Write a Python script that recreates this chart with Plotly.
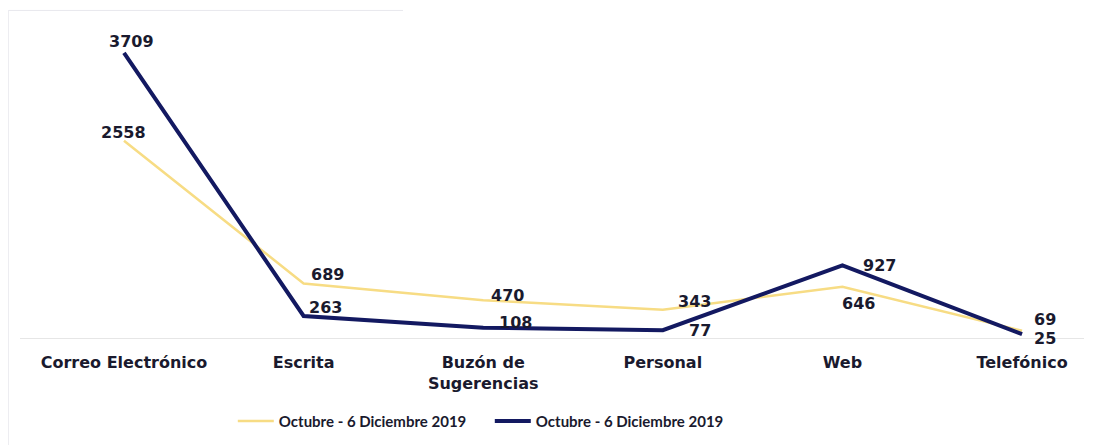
import plotly.graph_objects as go

categories = ["Correo Electrónico", "Escrita", "Buzón de<br>Sugerencias", "Personal", "Web", "Telefónico"]
serie_amarilla = [2558, 689, 470, 343, 646, 69]
serie_azul = [3709, 263, 108, 77, 927, 25]
nombre_amarilla = "Octubre - 6 Diciembre 2019"
nombre_azul = "Octubre - 6 Diciembre 2019"

# label offsets (px) relative to each point
off_amarilla = [(0, 8), (24, 9), (24, 5), (32, 8), (16, -17), (23, 11)]
off_azul = [(8, 11), (22, 8), (32, 5), (37, 0), (37, 0), (23, -4)]

AMARILLO = "#F7DC84"
AZUL = "#131961"
TXT = "#1a1a2e"

fig = go.Figure()
fig.add_trace(go.Scatter(
    x=categories, y=serie_amarilla, name=nombre_amarilla, mode="lines",
    line=dict(color=AMARILLO, width=2.5),
))
fig.add_trace(go.Scatter(
    x=categories, y=serie_azul, name=nombre_azul, mode="lines",
    line=dict(color=AZUL, width=4),
))

for serie, offs in ((serie_amarilla, off_amarilla), (serie_azul, off_azul)):
    for cat, val, (dx, dy) in zip(categories, serie, offs):
        fig.add_annotation(x=cat, y=val, text=str(val), showarrow=False,
                           xshift=dx, yshift=dy, xanchor="center", yanchor="middle",
                           font=dict(family="DejaVu Sans", size=16, color=TXT, weight="bold"))

# page body has an 8px margin; figure sized so it fits the 1094x445 window
fig.update_layout(
    width=1086, height=437,
    margin=dict(l=12, r=10, t=12, b=107),
    paper_bgcolor="white", plot_bgcolor="white",
    showlegend=True,
    legend=dict(orientation="h", x=0.2, xanchor="left", yref="container", y=0.092, yanchor="top",
                font=dict(family="Lato", size=15, color=TXT, weight="bold"),
                itemwidth=36, entrywidth=206),
    xaxis=dict(range=[-0.579, 5.345], showgrid=False, zeroline=False,
               showline=True, linecolor="#e6e6e6", linewidth=1,
               ticks="outside", ticklen=10, tickcolor="rgba(0,0,0,0)",
               tickfont=dict(family="DejaVu Sans", size=16, color=TXT, weight="bold"),
               tickangle=0),
    yaxis=dict(range=[-26, 4141], showgrid=False, zeroline=False, showticklabels=False,
               showline=False),
    font=dict(family="DejaVu Sans"),
)

fig.add_shape(type="line", xref="paper", yref="paper", x0=-0.011, x1=0.36, y0=1.03, y1=1.03,
              line=dict(color="#e8e8ee", width=1))
fig.add_shape(type="line", xref="paper", yref="paper", x0=-0.011, x1=-0.011, y0=1.03, y1=-0.9,
              line=dict(color="#e8e8ee", width=1))

fig.write_html("out.html")
